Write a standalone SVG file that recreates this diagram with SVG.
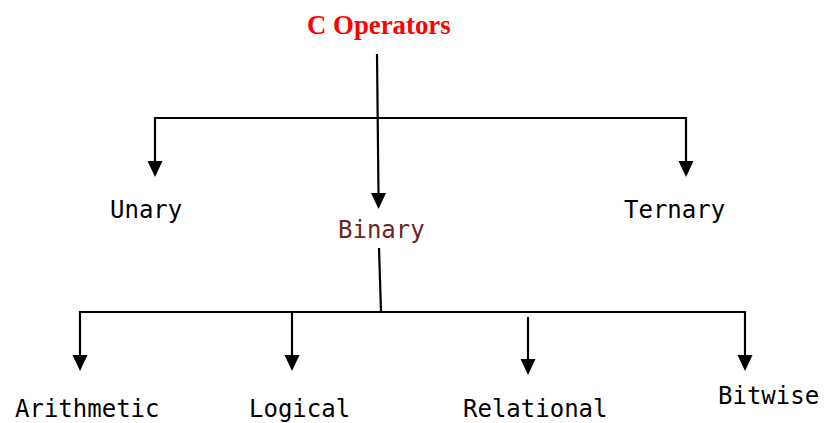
<svg xmlns="http://www.w3.org/2000/svg" width="824" height="423" viewBox="0 0 824 423">
  <style>
    .edge { stroke: #000; stroke-width: 2.2; fill: none; }
    .head { fill: #000; }
    .lbl { font-family: "DejaVu Sans Mono", "Liberation Mono", monospace; font-size: 24px; fill: #000; }
    .title { font-family: "Liberation Serif", "Times New Roman", serif; font-size: 26.8px; font-weight: bold; fill: #ff0000; }
  </style>
  <rect width="824" height="423" fill="#fff"/>

  <g id="connectors">
    <!-- root to second level -->
    <path class="edge" d="M377 54 L378.5 195"/>
    <path class="edge" d="M155 163 V118 H686 V163"/>
    <polygon class="head" points="371,193 386,193 378.5,209"/>
    <polygon class="head" points="147.5,161 162.5,161 155,177"/>
    <polygon class="head" points="678.5,161 693.5,161 686,177"/>
    <!-- Binary to third level -->
    <path class="edge" d="M379 248 L381 312"/>
    <path class="edge" d="M80 357 V312 H745 V357"/>
    <path class="edge" d="M292 312 V357"/>
    <path class="edge" d="M528 317 V361"/>
    <polygon class="head" points="72.5,355 87.5,355 80,371"/>
    <polygon class="head" points="284.5,355 299.5,355 292,371"/>
    <polygon class="head" points="520.5,359 535.5,359 528,375"/>
    <polygon class="head" points="737.5,355 752.5,355 745,371"/>
  </g>

  <g id="root"><text class="title" x="307" y="34">C Operators</text></g>
  <g id="unary"><text class="lbl" x="110" y="218">Unary</text></g>
  <g id="binary"><text class="lbl" x="338" y="238" style="fill:#6b2424">Binary</text></g>
  <g id="ternary"><text class="lbl" x="624" y="218">Ternary</text></g>
  <g id="arithmetic"><text class="lbl" x="15" y="417">Arithmetic</text></g>
  <g id="logical"><text class="lbl" x="249" y="417">Logical</text></g>
  <g id="relational"><text class="lbl" x="463" y="417">Relational</text></g>
  <g id="bitwise"><text class="lbl" x="718" y="404">Bitwise</text></g>
</svg>
